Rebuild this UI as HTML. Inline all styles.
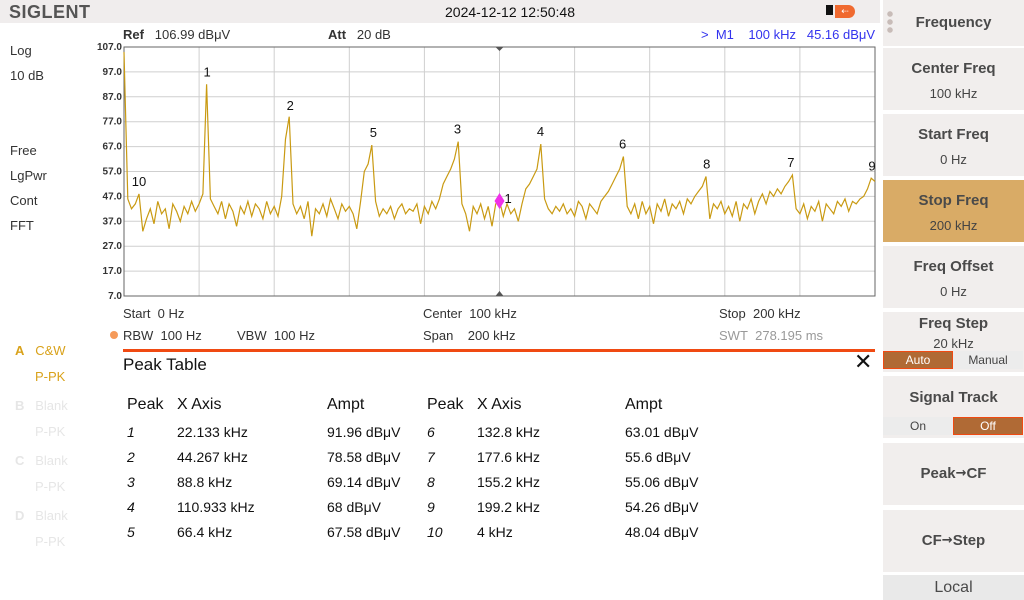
<!DOCTYPE html>
<html><head><meta charset="utf-8">
<style>
*{margin:0;padding:0;box-sizing:border-box}
body{width:1024px;height:600px;overflow:hidden;background:#fff;font-family:"Liberation Sans",Arial,sans-serif;position:relative;color:#333}
.a{position:absolute;white-space:nowrap}
.t13{font-size:13px}
.btn{position:absolute;left:883px;width:141px;background:#f1eeed;text-align:center;color:#444}
.btn b{display:block;font-size:15px;color:#4a4a4a}
.btn span{display:block;font-size:13px;color:#444}
.arr{font-family:"DejaVu Sans",sans-serif;font-size:13px;vertical-align:1px}
.tbl{font-size:14px;color:#111}
.hd{font-size:16px;color:#111}
</style></head><body>
<div class="a" style="left:0;top:0;width:880px;height:23px;background:#f0eded"></div>
<div class="a" style="left:9px;top:2px;font-size:18px;font-weight:bold;color:#555;letter-spacing:0.5px">SIGLENT</div>
<div class="a" style="left:445px;top:4px;font-size:14px;color:#111">2024-12-12 12:50:48</div>
<div class="a" style="left:826px;top:5px;width:7px;height:10px;background:#111"></div>
<div class="a" style="left:835px;top:5px;width:20px;height:13px;background:#f06a30;border-radius:0 7px 7px 0;color:#fff;font-size:9px;text-align:center;line-height:13px">⇠</div>

<div class="a t13" style="left:123px;top:27px"><b>Ref</b>&nbsp;&nbsp; 106.99 dBμV</div>
<div class="a t13" style="left:328px;top:27px"><b>Att</b>&nbsp;&nbsp; 20 dB</div>
<div class="a t13" style="left:701px;top:27px;color:#3333ee">&gt;&nbsp; M1&nbsp;&nbsp;&nbsp; 100 kHz&nbsp;&nbsp; 45.16 dBμV</div>

<div class="a t13" style="left:10px;top:43px">Log</div>
<div class="a t13" style="left:10px;top:68px">10 dB</div>
<div class="a t13" style="left:10px;top:143px">Free</div>
<div class="a t13" style="left:10px;top:168px">LgPwr</div>
<div class="a t13" style="left:10px;top:193px">Cont</div>
<div class="a t13" style="left:10px;top:218px">FFT</div>

<div class="a t13" style="left:15px;top:343px;color:#d9a21b"><b>A</b>&nbsp;&nbsp; C&amp;W</div>
<div class="a t13" style="left:35px;top:369px;color:#d9a21b">P-PK</div>
<div class="a t13" style="left:15px;top:398px;color:#e6e6e6"><b>B</b>&nbsp;&nbsp; Blank</div>
<div class="a t13" style="left:35px;top:424px;color:#e6e6e6">P-PK</div>
<div class="a t13" style="left:15px;top:453px;color:#e6e6e6"><b>C</b>&nbsp;&nbsp; Blank</div>
<div class="a t13" style="left:35px;top:479px;color:#e6e6e6">P-PK</div>
<div class="a t13" style="left:15px;top:508px;color:#e6e6e6"><b>D</b>&nbsp;&nbsp; Blank</div>
<div class="a t13" style="left:35px;top:534px;color:#e6e6e6">P-PK</div>

<svg class="a" style="left:0;top:0" width="880" height="300" id="chart"></svg>

<div class="a t13" style="left:123px;top:306px">Start&nbsp; 0 Hz</div>
<div class="a t13" style="left:423px;top:306px">Center&nbsp; 100 kHz</div>
<div class="a t13" style="left:719px;top:306px">Stop&nbsp; 200 kHz</div>
<div class="a" style="left:110px;top:331px;width:8px;height:8px;background:#f59a5a;border-radius:50%"></div>
<div class="a t13" style="left:123px;top:328px">RBW&nbsp; 100 Hz</div>
<div class="a t13" style="left:237px;top:328px">VBW&nbsp; 100 Hz</div>
<div class="a t13" style="left:423px;top:328px">Span&nbsp;&nbsp;&nbsp; 200 kHz</div>
<div class="a t13" style="left:719px;top:328px;color:#999">SWT&nbsp; 278.195 ms</div>
<div class="a" style="left:123px;top:349px;width:752px;height:3px;background:#f04a12"></div>
<div class="a" style="left:123px;top:355px;font-size:17px;color:#111">Peak Table</div>
<div class="a" style="left:854px;top:349px;font-size:22px;color:#111">✕</div>
<div id="table"></div>

<div class="btn" style="top:0;height:46px"><b style="line-height:46px">Frequency</b></div>
<div class="a" style="left:887px;top:10px;width:6px;height:24px;background:radial-gradient(circle,#c8bcb8 2.5px,transparent 3px) 0 0/6px 8px"></div>
<div class="btn" style="top:48px;height:62px;padding-top:12px"><b>Center Freq</b><span style="margin-top:9px">100 kHz</span></div>
<div class="btn" style="top:114px;height:62px;padding-top:12px"><b>Start Freq</b><span style="margin-top:9px">0 Hz</span></div>
<div class="btn" style="top:180px;height:62px;padding-top:12px;background:#d9ab66"><b>Stop Freq</b><span style="margin-top:9px">200 kHz</span></div>
<div class="btn" style="top:246px;height:62px;padding-top:12px"><b>Freq Offset</b><span style="margin-top:9px">0 Hz</span></div>
<div class="btn" style="top:312px;height:60px;padding-top:3px"><b>Freq Step</b><span style="margin-top:4px">20 kHz</span></div>
<div class="a" style="left:883px;top:351px;width:70px;height:18px;background:#b06a35;border:1px solid #f04a12;color:#fff;font-size:12px;text-align:center;line-height:16px">Auto</div>
<div class="a" style="left:953px;top:351px;width:70px;height:18px;background:#ececec;color:#444;font-size:12px;text-align:center;line-height:18px">Manual</div>
<div class="btn" style="top:376px;height:62px;padding-top:13px"><b>Signal Track</b></div>
<div class="a" style="left:883px;top:417px;width:70px;height:18px;background:#ececec;color:#444;font-size:12px;text-align:center;line-height:18px">On</div>
<div class="a" style="left:953px;top:417px;width:70px;height:18px;background:#b06a35;border:1px solid #f04a12;color:#fff;font-size:12px;text-align:center;line-height:16px">Off</div>
<div class="btn" style="top:443px;height:62px"><b style="line-height:62px">Peak<span class="arr" style="display:inline">→</span>CF</b></div>
<div class="btn" style="top:510px;height:62px"><b style="line-height:62px">CF<span class="arr" style="display:inline">→</span>Step</b></div>
<div class="btn" style="top:575px;height:25px;background:#e9e9e9"><b style="line-height:25px;font-weight:normal;font-size:16px">Local</b></div>

<script>
const amps=[105,46,42,44,48,33,38,42,36,45,40,42,34,44,41,37,43,40,45,41,44,48,92,46,43,40,45,38,44,41,
35,43,40,45,39,44,42,38,45,40,43,39,47,70,79,44,40,43,38,45,31,42,40,44,39,46,42,38,44,41,
43,40,34,45,57,60,67.6,45,39,42,40,43,38,42,44,40,42,41,44,36,43,40,45,42,46,52,55,58,62,69,
44,40,33,43,40,44,38,43,35,44,45.2,39,44,40,42,37,44,50,52,55,58,68,46,42,40,43,41,44,40,42,
39,45,43,38,44,42,40,45,47,49,52,55,58,63,43,40,44,38,45,40,43,36,44,41,46,39,44,42,45,40,
46,44,47,49,51,55,38,44,42,45,40,43,39,45,37,44,42,46,40,45,48,44,49,47,50,48,51,53,55.6,42,
40,44,38,43,41,45,37,44,42,40,45,43,46,41,45,44,46,47,50,54.3,53];
const yTicks=[107,97,87,77,67,57,47,37,27,17,7];
const peakNums=[1,2,3,4,5,6,7,8,9,10];
const peakFreqs=[22.133,44.267,88.8,110.933,66.4,132.8,177.6,155.2,199.2,4];
const peakAmps=[91.96,78.58,69.14,68,67.58,63.01,55.6,55.06,54.26,48.04];
const markerFreq=100, markerAmp=45.16;

const NS='http://www.w3.org/2000/svg';
const svg=document.getElementById('chart');
const X0=124,X1=875,Y0=47,Y1=296;
const xs=f=>X0+(f/200)*(X1-X0);
const ys=v=>Y0+(107-v)/100*(Y1-Y0);
function mk(t,a){const e=document.createElementNS(NS,t);for(const k in a)e.setAttribute(k,a[k]);svg.appendChild(e);return e;}
for(let i=1;i<10;i++){const l=mk('line',{x1:xs(i*20),x2:xs(i*20),y1:Y0,y2:Y1,stroke:'#cfcfcf'});

}
yTicks.forEach(v=>{
 if(v<107&&v>7){const l=mk('line',{x1:X0,x2:X1,y1:ys(v),y2:ys(v),stroke:'#cfcfcf'});
 
 }
 const t=mk('text',{x:122,y:ys(v)+3,'text-anchor':'end','font-size':'10','font-weight':'bold',fill:'#333','font-family':'Liberation Sans'});
 t.textContent=v.toFixed(1);
 
 
});
const fr=mk('rect',{x:X0,y:Y0,width:X1-X0,height:Y1-Y0,fill:'none',stroke:'#666'});


const tri1=mk('path',{d:`M${xs(100)-4},${Y0} L${xs(100)+4},${Y0} L${xs(100)},${Y0+4}Z`,fill:'#555'});


const tri2=mk('path',{d:`M${xs(100)-4},${Y1} L${xs(100)+4},${Y1} L${xs(100)},${Y1-5}Z`,fill:'#555'});


const pts=amps.map((v,i)=>xs(i).toFixed(1)+','+ys(Math.min(v,107)).toFixed(1)).join(' ');
const tr=mk('polyline',{points:pts,fill:'none',stroke:'#c99a12','stroke-width':'1.2'});


peakNums.forEach((n,i)=>{
 const t=mk('text',{x:xs(peakFreqs[i]),y:ys(peakAmps[i])-8,'text-anchor':'middle','font-size':'13',fill:'#111','font-family':'Liberation Sans'});
 t.textContent=n;
 
 
});
const mx=xs(markerFreq),my=ys(markerAmp);
const d=mk('path',{d:`M${mx},${my-8} L${mx+5},${my} L${mx},${my+8} L${mx-5},${my}Z`,fill:'#f030e8'});


const ml=mk('text',{x:mx+5,y:my+2,'font-size':'13',fill:'#111','font-family':'Liberation Sans'});
ml.textContent='1';



const tb=document.getElementById('table');
function cell(txt,x,y,cls,name){const e=document.createElement('div');e.className='a '+cls;e.style.left=x+'px';e.style.top=y+'px';e.textContent=txt;


tb.appendChild(e);return e;}
[['Peak',127],['X Axis',177],['Ampt',327],['Peak',427],['X Axis',477],['Ampt',625]].forEach(h=>cell(h[0],h[1],396,'hd','table-header'));
const fmtF=f=>(Math.round(f*1000)/1000)+' kHz';
for(let i=0;i<10;i++){
 const col=i<5?0:1,row=i%5,y=424+row*25,bx=col?427:127;
 const n=cell(String(peakNums[i]),bx,y,'tbl','peak-number');n.style.fontStyle='italic';
 cell(fmtF(peakFreqs[i]),bx+50,y,'tbl','peak-frequency');
 cell((Math.round(peakAmps[i]*100)/100)+' dBμV',col?625:327,y,'tbl','peak-amplitude');
}
</script>
</body></html>
